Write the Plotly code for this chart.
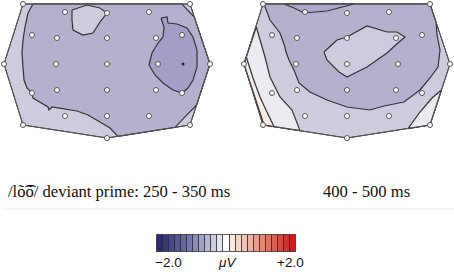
import plotly.graph_objects as go
import numpy as np

# ---------------- data ----------------
# electrode layout (map-local coordinates, shared by both maps)
ELEC_X = [65, 107, 149, 32, 57, 107, 156, 182, 56, 107, 158, 32, 57, 107, 156, 182, 65, 107, 149]
ELEC_Y = [12, 13, 12, 35, 38, 38, 38, 35, 64, 64, 64, 93, 90, 90, 90, 93, 116, 116, 116]
HULL_X = [23, 190, 210, 190, 107, 23, 4]
HULL_Y = [4, 4, 64, 125, 138, 125, 64]
MAP_OFFSETS = [0, 240]

# contour regions, map 1 (250-350 ms)
M1_MID_X = [33, 182, 194.3, 210, 196.6, 175, 118, 110, 100, 88, 77, 60, 52, 49, 48, 33, 32, 27, 24, 23, 22, 23, 25, 28]
M1_MID_Y = [4, 4, 17, 64, 105, 127.3, 136.3, 128, 122, 115, 111, 108, 107, 110, 107, 98, 93, 88, 80, 67, 53, 40, 27, 13]
M1_TOP_X = [72, 87, 100, 107, 100, 93, 83, 73, 72]
M1_TOP_Y = [10, 5, 8, 13, 22, 33, 35, 30, 20]
M1_DARK_X = [161, 167, 168, 177, 187, 193, 197, 197, 193, 188, 182, 173, 163, 155, 149, 152, 158, 163, 164, 162]
M1_DARK_Y = [18, 17, 23, 24, 28, 37, 50, 67, 80, 88, 93, 90, 83, 75, 65, 53, 43, 37, 27, 22]
M1_PEAK = (183, 64)

# contour regions, map 2 (400-500 ms), absolute coordinates
M2_MID_X = [264, 430, 436, 437, 440, 438, 430, 420, 404, 384, 370, 347, 327, 310, 299, 294, 289, 286, 285, 280, 270]
M2_MID_Y = [4, 4, 22, 35, 50, 67, 78, 90, 102, 106, 110, 107, 100, 92, 83, 70, 60, 52, 47, 33, 20]
M2_TOP_X = [284, 354, 327, 304, 294]
M2_TOP_Y = [4, 4, 11, 13, 8]
M2_CEN_X = [324, 337, 347, 367, 387, 397, 405, 399, 387, 367, 347, 339, 327]
M2_CEN_Y = [52, 40, 37, 26, 32, 32, 37, 42, 53, 67, 77, 72, 60]
M2_WHITE_X = [256.3, 244, 264, 300, 292, 280, 270, 265]
M2_WHITE_Y = [27, 64, 125, 130.6, 110, 97, 77, 57]
M2_PEACH_X = [246.3, 244, 264, 274, 266, 260, 253]
M2_PEACH_Y = [57, 64, 125, 126.6, 110, 97, 78]
M2_RCORNER_X = [408, 420, 432, 441.5, 430]
M2_RCORNER_Y = [128.6, 112, 98, 90, 125]

# colour scale (-2.0 .. +2.0 µV), 23 discrete steps
N_LEVELS = 23
CB_LABELS = ["\u22122.0", "<i>\u03bcV</i>", "+2.0"]
TITLE_1 = "/l\u00f5\u0361\u00f5/ deviant prime: 250 - 350 ms"
TITLE_2 = "400 - 500 ms"

# ---------------- styles ----------------
C_LIGHT = "#cdcbdd"
C_MID = "#b4b1ce"
C_DARK = "#a29ec6"
C_DARK2 = "#aba8cb"
C_WHITE = "#ebeaf1"
C_PEACH = "#f8eee7"
LINE_C = "#333333"

fig = go.Figure()


def poly(xs, ys, color, dx=0, lw=1.2):
    fig.add_trace(go.Scatter(
        x=[x + dx for x in xs] + [xs[0] + dx], y=list(ys) + [ys[0]],
        mode="lines", fill="toself", fillcolor=color,
        line=dict(color=LINE_C, width=lw), hoverinfo="skip", showlegend=False))


# base hulls
for off in MAP_OFFSETS:
    poly(HULL_X, HULL_Y, C_LIGHT, dx=off, lw=1)

# map 1
poly(M1_MID_X, M1_MID_Y, C_MID)
poly(M1_TOP_X, M1_TOP_Y, C_LIGHT)
poly(M1_DARK_X, M1_DARK_Y, C_DARK)

# map 2
poly(M2_WHITE_X, M2_WHITE_Y, C_WHITE)
poly(M2_PEACH_X, M2_PEACH_Y, C_PEACH)
poly(M2_RCORNER_X, M2_RCORNER_Y, C_WHITE)
poly(M2_MID_X, M2_MID_Y, C_MID)
poly(M2_TOP_X, M2_TOP_Y, C_DARK2)
poly(M2_CEN_X, M2_CEN_Y, C_LIGHT)

# hull outlines again on top
for off in MAP_OFFSETS:
    fig.add_trace(go.Scatter(
        x=[x + off for x in HULL_X] + [HULL_X[0] + off], y=HULL_Y + [HULL_Y[0]],
        mode="lines", line=dict(color="#555555", width=1),
        hoverinfo="skip", showlegend=False))

# electrodes
for off in MAP_OFFSETS:
    fig.add_trace(go.Scatter(
        x=[x + off for x in ELEC_X + HULL_X], y=ELEC_Y + HULL_Y,
        mode="markers",
        marker=dict(size=5, color="white", line=dict(color="#555555", width=1)),
        hoverinfo="skip", showlegend=False))

fig.add_trace(go.Scatter(x=[M1_PEAK[0]], y=[M1_PEAK[1]], mode="markers",
                         marker=dict(size=3, color="#222222"),
                         hoverinfo="skip", showlegend=False))

# colour bar
anchors_i = [0, 5, 10, 11, 12, 17, 22]
anchors_c = np.array([(42, 42, 122), (118, 116, 178), (226, 226, 240), (255, 255, 255),
                      (250, 233, 222), (224, 140, 116), (200, 30, 32)], dtype=float)
idx = np.arange(N_LEVELS)
cols = [
    "rgb(%d,%d,%d)" % tuple(np.interp(i, anchors_i, anchors_c[:, k]) for k in range(3))
    for i in idx
]
cb_x0, cb_x1, cb_y0, cb_y1 = 157, 296, 235, 252
dx = (cb_x1 - cb_x0) / N_LEVELS
fig.add_trace(go.Bar(
    x=[cb_x0 + dx * (i + 0.5) for i in idx], y=[cb_y1 - cb_y0] * N_LEVELS,
    base=[cb_y0] * N_LEVELS, width=dx,
    marker=dict(color=cols, line=dict(color="rgba(40,40,40,0.75)", width=1)),
    hoverinfo="skip", showlegend=False))

# texts
fig.add_annotation(x=6, y=191, text=TITLE_1, showarrow=False, xanchor="left", yanchor="middle",
                   font=dict(family="Liberation Serif", size=16.6, color="#111111"))
fig.add_annotation(x=321, y=191, text=TITLE_2, showarrow=False, xanchor="left", yanchor="middle",
                   font=dict(family="Liberation Serif", size=16.6, color="#111111"))
for lab, xx in zip(CB_LABELS, [168, 227, 290]):
    fig.add_annotation(x=xx, y=262, text=lab, showarrow=False, xanchor="center", yanchor="middle",
                       font=dict(family="Liberation Sans", size=13.5, color="#111111"))

# faint separator line
fig.add_trace(go.Scatter(x=[2, 454], y=[209, 209], mode="lines",
                         line=dict(color="#ececec", width=1), hoverinfo="skip", showlegend=False))

fig.update_layout(
    width=454, height=274, autosize=False,
    margin=dict(l=0, r=0, t=0, b=0),
    paper_bgcolor="white", plot_bgcolor="white",
    xaxis=dict(range=[0, 454], visible=False, fixedrange=True),
    yaxis=dict(range=[274, 0], visible=False, fixedrange=True),
    bargap=0,
)

fig.write_html("out.html", config={"displayModeBar": False},
               post_script="document.body.style.margin='0';document.body.style.overflow='hidden';")
